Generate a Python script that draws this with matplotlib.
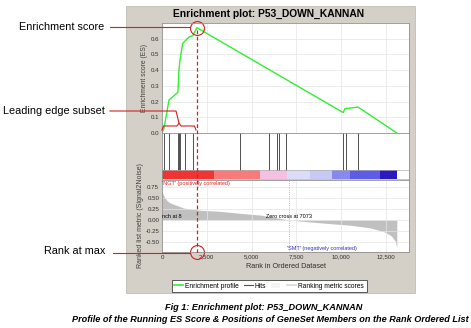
import matplotlib.pyplot as plt
from matplotlib.lines import Line2D
from matplotlib.patches import Rectangle, Patch
from matplotlib.transforms import blended_transform_factory

plt.rcParams["font.family"] = ["Liberation Sans", "DejaVu Sans"]

# running enrichment score
es_rank = [0, 110, 220, 390, 700, 890, 945, 1000, 1150, 1500, 1720, 1950,
           10110, 10200, 10940, 13100]
es_value = [0.0, 0.03, 0.10, 0.21, 0.24, 0.26, 0.40, 0.46, 0.57, 0.61, 0.62, 0.67,
            0.13, 0.155, 0.165, 0.0]

# positions of gene set members in the ranked list
hit_ranks = [110, 390, 890, 945, 1000, 1280, 1720, 4330, 5950, 6390, 6500, 6890,
             10110, 10280, 10940]

# ranking metric (signal2noise) along the list
metric_rank = [0, 140, 300, 500, 890, 1220, 2170, 3110, 4390, 5500, 7073, 8670,
               10500, 11620, 12400, 12790, 13010, 13100]
metric_value = [0.64, 0.52, 0.43, 0.38, 0.32, 0.27, 0.22, 0.20, 0.15, 0.11, 0.0, -0.06,
                -0.12, -0.18, -0.27, -0.36, -0.48, -0.63]

# red/blue heat bar under the hits
bar_edges = [0, 2890, 5450, 7000, 8280, 9500, 10500, 12180, 13100]
bar_colors = ["#f03434", "#f87a7a", "#f5c0e2", "#dcdcf8", "#c8c8f5", "#8888f0",
              "#5c5ce6", "#2a18c0"]

rank_at_max = 1950
es_max = 0.67
zero_cross = 7073
n_genes = 13780
rank_ticks = [0, 2500, 5000, 7500, 10000, 12500]
rank_labels = ["0", "2,500", "5,000", "7,500", "10,000", "12,500"]
es_ticks = [0.0, 0.1, 0.2, 0.3, 0.4, 0.5, 0.6]
metric_ticks = [0.75, 0.5, 0.25, 0.0, -0.25, -0.5]

W, H = 471, 328
RED = "#d42020"
GRID = "#e4e4e4"


def box(x0, y0, x1, y1):
    return [x0 / W, 1 - y1 / H, (x1 - x0) / W, (y1 - y0) / H]


def fx(x):
    return x / W


def fy(y):
    return 1 - y / H


def style(ax):
    for s in ax.spines.values():
        s.set_color("#909090")
        s.set_linewidth(0.6)
    ax.tick_params(labelsize=4.4, length=0, pad=2, colors="#303030")


fig = plt.figure(figsize=(W / 100, H / 100), dpi=100)
fig.patch.set_facecolor("white")
fig.add_artist(Rectangle((fx(126), fy(293)), (415 - 126) / W, (293 - 6) / H,
                         transform=fig.transFigure, facecolor="#d4d0c8",
                         edgecolor="#c0bcb4", lw=0.6, zorder=0))
fig.text(fx(269), fy(14), "Enrichment plot: P53_DOWN_KANNAN", ha="center",
         va="center", fontsize=7.4, fontweight="bold")

# ES panel
ax_es = fig.add_axes(box(162, 23, 409, 133))
ax_es.plot(es_rank, es_value, color="#33ee33", lw=1.0)
ax_es.set_xlim(0, n_genes)
ax_es.set_ylim(0, 0.70)
ax_es.set_yticks(es_ticks)
ax_es.set_yticklabels([f"{v:.1f}" for v in es_ticks])
ax_es.set_xticks(rank_ticks)
ax_es.set_xticklabels([])
ax_es.grid(True, color=GRID, lw=0.5)
ax_es.set_ylabel("Enrichment score (ES)", fontsize=4.9, color="#404040", labelpad=2)
style(ax_es)

# hits + heat bar
ax_hit = fig.add_axes(box(162, 133, 409, 180))
ax_hit.set_xlim(0, n_genes)
ax_hit.set_ylim(0, 1)
for r in hit_ranks:
    ax_hit.plot([r, r], [0.22, 1], color="#505050", lw=0.7)
for i, c in enumerate(bar_colors):
    ax_hit.add_patch(Rectangle((bar_edges[i], 0.02), bar_edges[i + 1] - bar_edges[i], 0.2,
                               facecolor=c, edgecolor="none"))
ax_hit.axhline(0.22, color="#b0b0b0", lw=0.5)
ax_hit.axhline(0.02, color="#b0b0b0", lw=0.5)
ax_hit.set_xticks([])
ax_hit.set_yticks([])
style(ax_hit)

# ranked list metric
ax_m = fig.add_axes(box(162, 180, 409, 252))
ax_m.fill_between(metric_rank, metric_value, 0, color="#c0c0c0", lw=0)
ax_m.set_xlim(0, n_genes)
ax_m.set_ylim(-0.73, 0.91)
ax_m.set_yticks(metric_ticks)
ax_m.set_yticklabels([f"{v:.2f}" for v in metric_ticks])
ax_m.set_xticks(rank_ticks)
ax_m.set_xticklabels(rank_labels)
ax_m.grid(True, color=GRID, lw=0.5)
ax_m.axvline(zero_cross, color="#a0a0a0", lw=0.6, ls=":")
ax_m.set_xlabel("Rank in Ordered Dataset", fontsize=5.2, color="#303030", labelpad=2)
ax_m.set_ylabel("Ranked list metric (Signal2Noise)", fontsize=5, color="#404040",
                labelpad=1)
style(ax_m)
ax_m.text(0, 0.82, "'NGT' (positively correlated)", color="#e02020", fontsize=4,
          va="center", ha="left")
ax_m.text(0, 0.07, "nch at 8", fontsize=4, va="center", ha="left")
ax_m.text(zero_cross, 0.07, "Zero cross at 7073", fontsize=4, va="center",
          ha="center")
ax_m.text(zero_cross - 100, -0.64, "'SMT' (negatively correlated)", color="#3030d0",
          fontsize=4, va="center", ha="left")

# legend
handles = [Line2D([], [], color="#33ee33", lw=1.2),
           Line2D([], [], color="#505050", lw=0.8),
           Patch(facecolor="#f4f4f4", edgecolor="none"),
           Line2D([], [], color="#d8d8d8", lw=1.2)]
labels = ["Enrichment profile", "Hits", "", "Ranking metric scores"]
leg = fig.legend(handles, labels, loc="center", bbox_to_anchor=(fx(269), fy(286)),
                 ncol=4, fontsize=4.8, frameon=True, fancybox=False,
                 edgecolor="#404040", framealpha=1, handlelength=1.4,
                 handletextpad=0.3, columnspacing=0.7, borderpad=0.35)
leg.get_frame().set_linewidth(0.6)

# red annotations
xline = blended_transform_factory(ax_es.transData, fig.transFigure)
fig.add_artist(Line2D([rank_at_max, rank_at_max], [fy(30), fy(253)], transform=xline,
                      color=RED, lw=0.9, ls=(0, (3, 2))))
ax_es.plot([rank_at_max], [es_max], marker="o", ms=10, mfc="none", mec=RED, mew=0.8,
           clip_on=False)
ax_m.plot([rank_at_max], [-0.73], marker="o", ms=10, mfc="none", mec=RED, mew=0.8,
          clip_on=False)

fig.text(fx(104), fy(27), "Enrichment score", ha="right", va="center", fontsize=7.8)
fig.add_artist(Line2D([fx(110), fx(190)], [fy(27), fy(27)], transform=fig.transFigure,
                      color=RED, lw=0.8))

fig.text(fx(105), fy(111), "Leading edge subset", ha="right", va="center", fontsize=7.8)
fig.add_artist(Line2D([fx(110), fx(176), fx(179)], [fy(111), fy(111), fy(123)],
                      transform=fig.transFigure, color=RED, lw=0.8))
brace_x = [162, 163.5, 177, 179, 181, 194.5, 196]
brace_y = [130, 126, 126, 123, 126, 126, 130]
fig.add_artist(Line2D([fx(v) for v in brace_x], [fy(v) for v in brace_y],
                      transform=fig.transFigure, color=RED, lw=0.8))

fig.text(fx(105), fy(251), "Rank at max", ha="right", va="center", fontsize=7.8)
fig.add_artist(Line2D([fx(113), fx(190)], [fy(253), fy(253)], transform=fig.transFigure,
                      color=RED, lw=0.8))

# caption
fig.text(fx(264), fy(308), "Fig 1: Enrichment plot: P53_DOWN_KANNAN", ha="center",
         va="center", fontsize=6.6, fontweight="bold", style="italic")
fig.text(fx(270), fy(320),
         "Profile of the Running ES Score & Positions of GeneSet Members on the Rank Ordered List",
         ha="center", va="center", fontsize=6.6, fontweight="bold", style="italic")

fig.savefig("out.png", dpi=100)
